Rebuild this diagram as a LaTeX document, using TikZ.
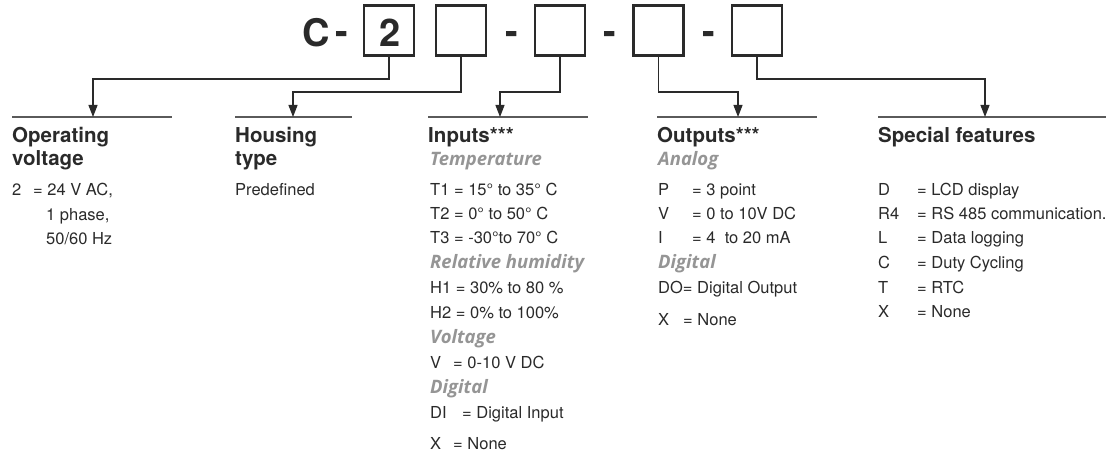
\documentclass[tikz,border=0pt]{standalone}
\usepackage{fontspec}
\setmainfont{TeX Gyre Heros}
\newfontfamily\subfont{Open Sans}
\usetikzlibrary{arrows.meta}
\definecolor{subgray}{HTML}{959595}
\definecolor{rulegray}{HTML}{5A5A5A}
\definecolor{lineblk}{HTML}{2A2A2A}
\tikzset{
  codebox/.style={draw=lineblk, line width=2.6pt, minimum width=50pt, minimum height=50pt, inner sep=0pt},
  codetxt/.style={inner sep=0pt, anchor=base, font=\bfseries\fontsize{38}{40}\selectfont, text=lineblk},
  conn/.style={draw=lineblk, line width=1.1pt},
  arr/.style={conn, -{Triangle[length=12pt,width=9pt]}},
  hrule/.style={draw=rulegray, line width=1.5pt},
  hd/.style={font=\bfseries\fontsize{20.5}{24}\selectfont, anchor=base west, inner sep=0pt, text=lineblk},
  tx/.style={font=\fontsize{16.5}{20}\selectfont, anchor=base west, inner sep=0pt, text=lineblk},
  sub/.style={font=\subfont\bfseries\itshape\fontsize{18.5}{22}\selectfont, text=subgray, anchor=base west, inner sep=0pt},
}
\newcommand{\kvk}[3]{\makebox[#1][l]{#2}#3}
\begin{document}
\begin{tikzpicture}[x=1pt,y=-1pt]
\useasboundingbox (0,0) rectangle (1115,457);
% code line
\node[codetxt] (c) at (316.5,47) {C};
\node[codebox] (b1) at (389,30.5) {};
\node[codetxt] (two) at (390,47) {2};
\node[codebox] (b2) at (461,30.5) {};
\node[codebox] (b3) at (560,30.5) {};
\node[codebox] (b4) at (658.5,30.5) {};
\node[codebox] (b5) at (757,30.5) {};
\node[codetxt] (d1) at (342,44.5) {-};
\node[codetxt] (d2) at (512,44.5) {-};
\node[codetxt] (d3) at (609.5,44.5) {-};
\node[codetxt] (d4) at (709,44.5) {-};
% header rules
\draw[hrule] (12,117) -- (172,117);
\draw[hrule] (235,117) -- (352,117);
\draw[hrule] (428,117) -- (588,117);
\draw[hrule] (657,117) -- (817,117);
\draw[hrule] (878,117) -- (1106,117);
\coordinate (a1) at (93,117);
\coordinate (a2) at (293,117);
\coordinate (a3) at (500,117);
\coordinate (a4) at (738,117);
\coordinate (a5) at (985,117);
% connectors
\draw[arr] (b1.south) -- (b1.south |- 0,79) -| (a1);
\draw[arr] (b2.south) -- (b2.south |- 0,92) -| (a2);
\draw[arr] (b3.south) -- (b3.south |- 0,92) -| (a3);
\draw[arr] (b4.south) -- (b4.south |- 0,92) -| (a4);
\draw[arr] (b5.south) -- (b5.south |- 0,79) -| (a5);
% headers
\node[hd] (h1a) at (12,143) {Operating};
\node[hd] (h1b) at (12,165) {voltage};
\node[hd] (h2a) at (235,143) {Housing};
\node[hd] (h2b) at (235,165) {type};
\node[hd] (h3) at (428,143) {Inputs***};
\node[hd] (h4) at (657,143) {Outputs***};
\node[hd] (h5) at (878,143) {Special features};
% operating voltage
\node[tx] (o1) at (12,195) {\kvk{21pt}{2}{= 24 V AC,}};
\node[tx] (o2) at (46,220) {1 phase,};
\node[tx] (o3) at (46,244) {50/60 Hz};
% housing
\node[tx] (p1) at (235,195) {Predefined};
% inputs
\node[sub] (i0) at (430,165) {Temperature};
\node[tx] (i1) at (430,195) {T1 = 15° to 35° C};
\node[tx] (i2) at (430,219) {T2 = 0° to 50° C};
\node[tx] (i3) at (430,243) {T3 = -30°to 70° C};
\node[sub] (i4) at (430,268) {Relative humidity};
\node[tx] (i5) at (430,293) {H1 = 30\% to 80 \%};
\node[tx] (i6) at (430,318) {H2 = 0\% to 100\%};
\node[sub] (i7) at (430,343) {Voltage};
\node[tx] (i8) at (430,368) {\kvk{23pt}{V}{= 0-10 V DC}};
\node[sub] (i9) at (430,393) {Digital};
\node[tx] (i10) at (430,418) {\kvk{32pt}{DI}{= Digital Input}};
\node[tx] (i11) at (430,449) {\kvk{23pt}{X}{= None}};
% outputs
\node[sub] (u0) at (658,165) {Analog};
\node[tx] (u1) at (658,195) {\kvk{34pt}{P}{= 3 point}};
\node[tx] (u2) at (658,219) {\kvk{34pt}{V}{= 0 to 10V DC}};
\node[tx] (u3) at (658,243) {\kvk{34pt}{I}{= 4 \ to 20 mA}};
\node[sub] (u4) at (658,268) {Digital};
\node[tx] (u5) at (658,293) {DO= Digital Output};
\node[tx] (u6) at (658,325) {\kvk{25pt}{X}{= None}};
% special features
\node[tx] (s1) at (878,195) {\kvk{39pt}{D}{= LCD display}};
\node[tx] (s2) at (878,219) {\kvk{39pt}{R4}{= RS 485 communication.}};
\node[tx] (s3) at (878,243) {\kvk{39pt}{L}{= Data logging}};
\node[tx] (s4) at (878,268) {\kvk{39pt}{C}{= Duty Cycling}};
\node[tx] (s5) at (878,293) {\kvk{39pt}{T}{= RTC}};
\node[tx] (s6) at (878,317) {\kvk{39pt}{X}{= None}};
\end{tikzpicture}
\end{document}
